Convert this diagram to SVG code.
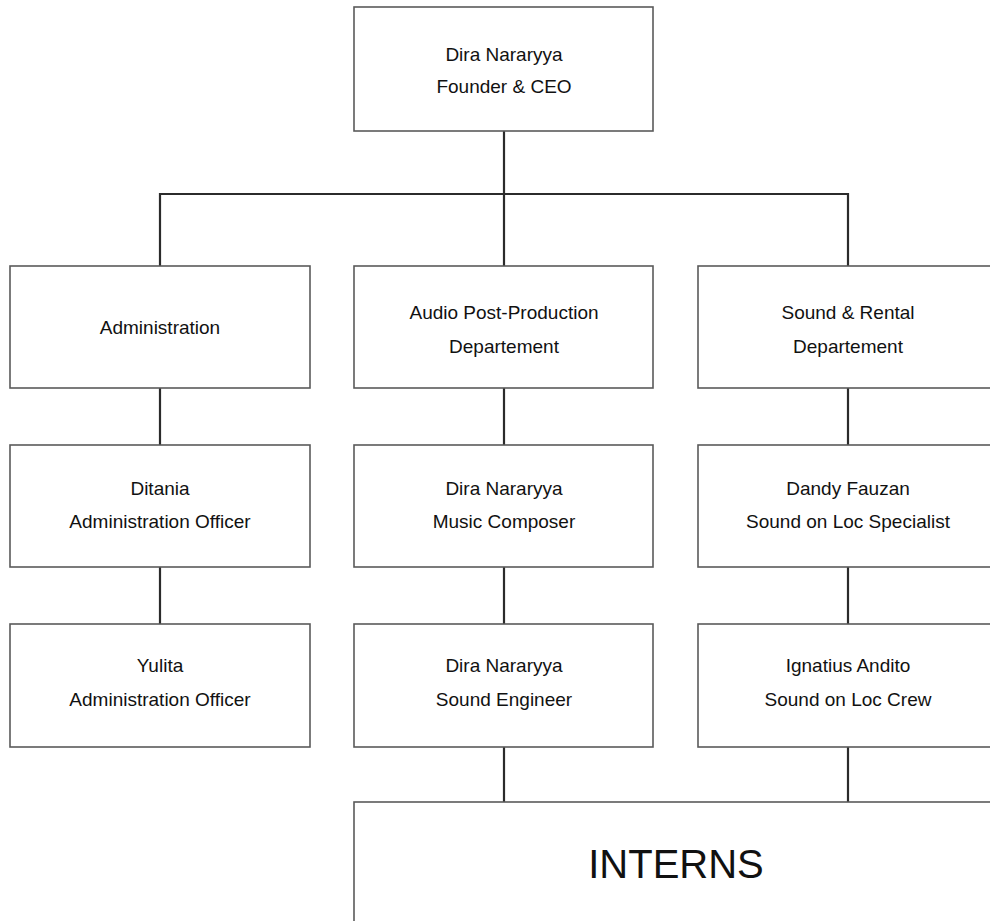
<svg xmlns="http://www.w3.org/2000/svg" width="990" height="921" viewBox="0 0 990 921">
<style>
.box{fill:#fff;stroke:#5a5a5a;stroke-width:1.6}
.lbl{font-family:"Liberation Sans",Arial,sans-serif;font-size:19px;fill:#111;text-anchor:middle}
.big{font-family:"Liberation Sans",Arial,sans-serif;font-size:40px;fill:#111;text-anchor:middle}
.conn{stroke:#2b2b2b;stroke-width:2.2;fill:none}
</style>
<rect width="990" height="921" fill="#fff"/>
<g id="connectors">
<path class="conn" d="M504 131V266M160 266V194H848V266"/>
<path class="conn" d="M160 388V445M504 388V445M848 388V445"/>
<path class="conn" d="M160 567V624M504 567V624M848 567V624"/>
<path class="conn" d="M504 747V802M848 747V802"/>
</g>
<g id="ceo"><rect class="box" x="354" y="7" width="299" height="124"/><text class="lbl" x="504" y="61">Dira Nararyya</text><text class="lbl" x="504" y="93">Founder &amp; CEO</text></g>
<g id="administration"><rect class="box" x="10" y="266" width="300" height="122"/><text class="lbl" x="160" y="334">Administration</text></g>
<g id="audio-post"><rect class="box" x="354" y="266" width="299" height="122"/><text class="lbl" x="504" y="319">Audio Post-Production</text><text class="lbl" x="504" y="353">Departement</text></g>
<g id="sound-rental"><rect class="box" x="698" y="266" width="300" height="122"/><text class="lbl" x="848" y="319">Sound &amp; Rental</text><text class="lbl" x="848" y="353">Departement</text></g>
<g id="ditania"><rect class="box" x="10" y="445" width="300" height="122"/><text class="lbl" x="160" y="495">Ditania</text><text class="lbl" x="160" y="528">Administration Officer</text></g>
<g id="composer"><rect class="box" x="354" y="445" width="299" height="122"/><text class="lbl" x="504" y="495">Dira Nararyya</text><text class="lbl" x="504" y="528">Music Composer</text></g>
<g id="dandy"><rect class="box" x="698" y="445" width="300" height="122"/><text class="lbl" x="848" y="495">Dandy Fauzan</text><text class="lbl" x="848" y="528">Sound on Loc Specialist</text></g>
<g id="yulita"><rect class="box" x="10" y="624" width="300" height="123"/><text class="lbl" x="160" y="672">Yulita</text><text class="lbl" x="160" y="706">Administration Officer</text></g>
<g id="engineer"><rect class="box" x="354" y="624" width="299" height="123"/><text class="lbl" x="504" y="672">Dira Nararyya</text><text class="lbl" x="504" y="706">Sound Engineer</text></g>
<g id="ignatius"><rect class="box" x="698" y="624" width="300" height="123"/><text class="lbl" x="848" y="672">Ignatius Andito</text><text class="lbl" x="848" y="706">Sound on Loc Crew</text></g>
<g id="interns"><rect class="box" x="354" y="802" width="644" height="130"/><text class="big" x="676" y="878">INTERNS</text></g>
</svg>
